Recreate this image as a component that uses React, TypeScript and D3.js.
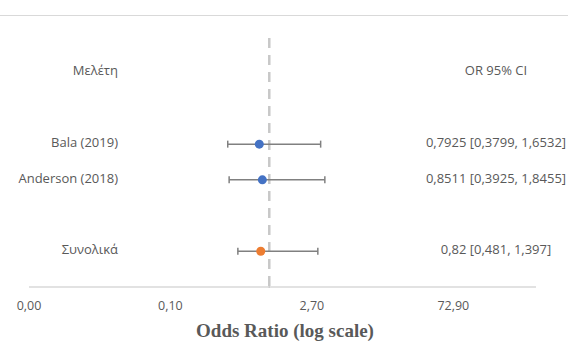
import React, { useEffect, useRef } from "react";
import * as d3 from "d3";

// study rows (top to bottom)
const studies = ["Bala (2019)", "Anderson (2018)", "Συνολικά"];
const rowPositions = [4, 3, 1];
const oddsRatios = [0.7925, 0.8511, 0.82];
// whisker ends as drawn in the picture
const whiskerLow = [0.3799, 0.3925, 0.481];
const whiskerHigh = [3.31, 3.65, 3.1];
const ciLabels = ["0,7925 [0,3799, 1,6532]", "0,8511 [0,3925, 1,8455]", "0,82 [0,481, 1,397]"];
const pointColors = ["#4472C4", "#4472C4", "#ED7D31"];

const headerRow = 6;
const headerLeft = "Μελέτη";
const headerRight = "OR 95% CI";

const xDomain = [1 / 270, 500];
const xTicks = [1 / 270, 0.1, 2.7, 72.9];
const yDomain = [0, 7];
const refValue = 1;
const axisTitle = "Odds Ratio (log scale)";

const App = () => {
  const svgRef = useRef<SVGSVGElement>(null);

  useEffect(() => {
    const width = 568;
    const height = 359;
    const textColor = "#595959";
    const font = "'Open Sans', sans-serif";

    d3.select(svgRef.current).selectAll("*").remove();
    const svg = d3
      .select(svgRef.current)
      .attr("width", width)
      .attr("height", height);

    const x = d3.scaleLog().base(27).domain(xDomain).range([29, 536]);
    const y = d3.scaleLinear().domain(yDomain).range([287, 37]);

    // top border line
    svg
      .append("line")
      .attr("x1", 0)
      .attr("x2", width)
      .attr("y1", 15.5)
      .attr("y2", 15.5)
      .attr("stroke", "#d9d9d9")
      .attr("stroke-width", 1);

    // x axis line
    svg
      .append("line")
      .attr("x1", x(xDomain[0]))
      .attr("x2", x(xDomain[1]))
      .attr("y1", y(0))
      .attr("y2", y(0))
      .attr("stroke", "#d9d9d9")
      .attr("stroke-width", 1.5);

    svg
      .append("line")
      .attr("x1", x(refValue))
      .attr("x2", x(refValue))
      .attr("y1", y(0) - 7)
      .attr("y2", y(0) + 1)
      .attr("stroke", "#cfcfcf")
      .attr("stroke-width", 1.5);

    // reference line at OR = 1
    svg
      .append("line")
      .attr("x1", x(refValue))
      .attr("x2", x(refValue))
      .attr("y1", y(yDomain[1]) + 1)
      .attr("y2", y(0))
      .attr("stroke", "#c8c8c8")
      .attr("stroke-width", 2.5)
      .attr("stroke-dasharray", "10,7");

    // tick labels
    const fmt = d3.format(".2f");
    svg
      .selectAll(".tick-label")
      .data(xTicks)
      .enter()
      .append("text")
      .attr("x", d => x(d))
      .attr("y", 309.5)
      .attr("text-anchor", "middle")
      .style("font-family", font)
      .style("font-size", "12.5px")
      .attr("fill", textColor)
      .text(d => fmt(d).replace(".", ","));

    // axis title
    svg
      .append("text")
      .attr("x", 285)
      .attr("y", 337)
      .attr("text-anchor", "middle")
      .style("font-family", "'Liberation Serif', 'Times New Roman', serif")
      .style("font-weight", "bold")
      .style("font-size", "19px")
      .attr("fill", textColor)
      .text(axisTitle);

    // headers
    svg
      .append("text")
      .attr("x", 118)
      .attr("y", y(headerRow) - 2)
      .attr("dy", "0.35em")
      .attr("text-anchor", "end")
      .style("font-family", font)
      .style("font-size", "13px")
      .attr("fill", textColor)
      .text(headerLeft);

    svg
      .append("text")
      .attr("x", 496)
      .attr("y", y(headerRow) - 2)
      .attr("dy", "0.35em")
      .attr("text-anchor", "middle")
      .style("font-family", font)
      .style("font-size", "13px")
      .attr("fill", textColor)
      .text(headerRight);

    const rows = studies.map((name, i) => ({
      name,
      row: rowPositions[i],
      or: oddsRatios[i],
      lo: whiskerLow[i],
      hi: whiskerHigh[i],
      label: ciLabels[i],
      color: pointColors[i]
    }));

    const g = svg.selectAll(".row").data(rows).enter().append("g");

    // error bars
    g.append("line")
      .attr("x1", d => x(d.lo))
      .attr("x2", d => x(d.hi))
      .attr("y1", d => y(d.row))
      .attr("y2", d => y(d.row))
      .attr("stroke", "#808080")
      .attr("stroke-width", 1.5);

    ["lo", "hi"].forEach(k => {
      g.append("line")
        .attr("x1", d => x(d[k]))
        .attr("x2", d => x(d[k]))
        .attr("y1", d => y(d.row) - 3.5)
        .attr("y2", d => y(d.row) + 3.5)
        .attr("stroke", "#808080")
        .attr("stroke-width", 1.5);
    });

    // points
    g.append("circle")
      .attr("cx", d => x(d.or))
      .attr("cy", d => y(d.row))
      .attr("r", 4.5)
      .attr("fill", d => d.color);

    // study names
    g.append("text")
      .attr("x", 118)
      .attr("y", d => y(d.row) - 1.5)
      .attr("dy", "0.35em")
      .attr("text-anchor", "end")
      .style("font-family", font)
      .style("font-size", "13px")
      .attr("fill", textColor)
      .text(d => d.name);

    // CI labels
    g.append("text")
      .attr("x", 496)
      .attr("y", d => y(d.row) - 1.5)
      .attr("dy", "0.35em")
      .attr("text-anchor", "middle")
      .style("font-family", font)
      .style("font-size", "13px")
      .attr("fill", textColor)
      .text(d => d.label);
  }, []);

  return (
    <svg
      ref={svgRef}
      style={{ position: "absolute", left: 0, top: 0, background: "#fff" }}
    ></svg>
  );
};

export default App;
